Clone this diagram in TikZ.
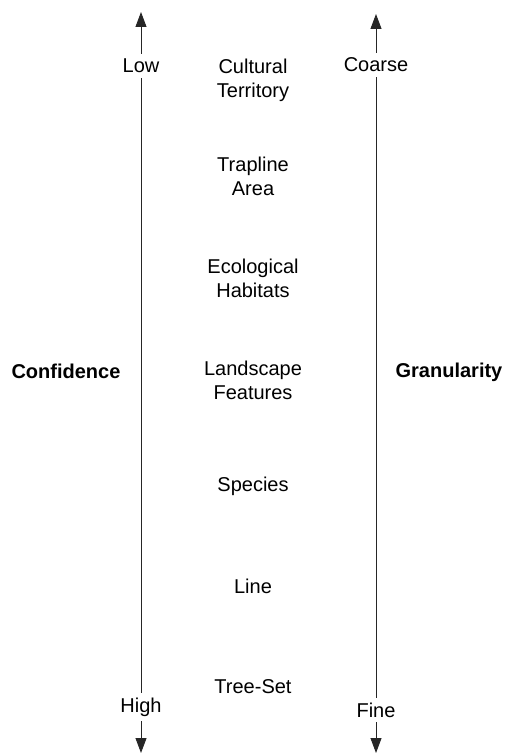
\documentclass[tikz,border=0pt]{standalone}
\usepackage{fontspec}
\setmainfont{Liberation Sans}
\usetikzlibrary{arrows.meta}
\begin{document}
\begin{tikzpicture}[x=1pt,y=-1pt,
  lbl/.style={font=\fontsize{20}{24}\selectfont, align=center, inner sep=0pt},
  axlbl/.style={font=\fontsize{20}{24}\selectfont, fill=white, inner xsep=1pt, inner ysep=5pt},
  side/.style={font=\fontsize{20}{24}\selectfont\bfseries, inner sep=0pt},
  axis/.style={line width=0.9pt, draw=black!85, {Triangle[width=11pt,length=15pt]}-{Triangle[width=11pt,length=15pt]}}]
\useasboundingbox (0,0) rectangle (504,754);
% axes end points
\coordinate (ltop) at (141,12);
\coordinate (lbot) at (141,753);
\coordinate (rtop) at (376,14);
\coordinate (rbot) at (376,753);
\draw[axis] (ltop) -- (lbot);
\draw[axis] (rtop) -- (rbot);
% axis labels
\node[axlbl] (low) at (141,66) {Low};
\node[axlbl] (high) at (141,707) {High};
\node[axlbl] (coarse) at (376,65) {Coarse};
\node[axlbl] (fine) at (376,710) {Fine};
% side titles
\node[side] (conf) at (66,371) {Confidence};
\node[side] (gran) at (449,372) {Granularity};
% centre levels
\node[lbl] (ct) at (253,80) {Cultural\\Territory};
\node[lbl] (ta) at (253,176) {Trapline\\Area};
\node[lbl] (eh) at (253,278) {Ecological\\Habitats};
\node[lbl] (lf) at (253,380) {Landscape\\Features};
\node[lbl] (sp) at (253,486) {Species};
\node[lbl] (ln) at (253,586) {Line};
\node[lbl] (ts) at (253,687) {Tree-Set};
\end{tikzpicture}
\end{document}
